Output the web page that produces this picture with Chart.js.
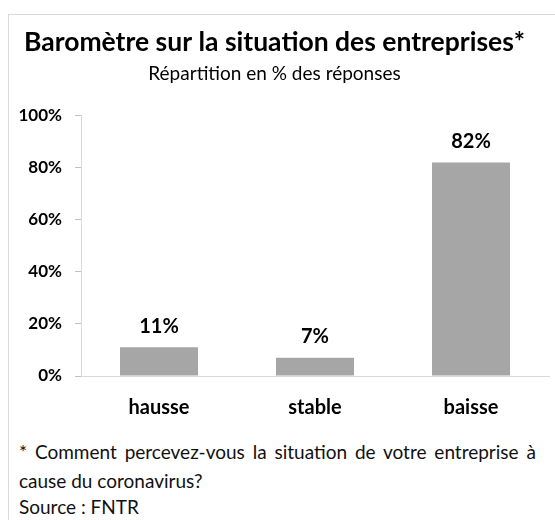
<!DOCTYPE html>
<html lang="fr">
<head>
  <meta charset="UTF-8">
  <title>Baromètre sur la situation des entreprises</title>
  <script src="https://cdn.jsdelivr.net/npm/chart.js"></script>
  <style>
    html, body { margin: 0; padding: 0; background: #fff; overflow: hidden; }
    body { width: 555px; height: 520px; position: relative; }
    .frame {
      position: absolute; left: 8px; top: 14px; width: 600px; height: 600px;
      border: 1px solid #d9d9d9; box-sizing: border-box;
    }
    #wrap { position: absolute; left: 0; top: 0; width: 555px; height: 420px; }
    .note {
      position: absolute; left: 19px; width: 524px; line-height: 23px;
      font-family: Lato, "Open Sans", sans-serif; font-size: 19px; color: #111;
      white-space: nowrap;
    }
  </style>
</head>
<body>
  <div class="frame"></div>
  <div id="wrap"><canvas id="chart" width="555" height="420"></canvas></div>
  <div class="note" style="top:440px; word-spacing: 3px;">* Comment percevez-vous la situation de votre entreprise à</div>
  <div class="note" style="top:469px;">cause du coronavirus?</div>
  <div class="note" style="top:495px;">Source : FNTR</div>

  <script>
    const categories = ["hausse", "stable", "baisse"];
    const shares = [11, 7, 82];
    const yTicks = [0, 20, 40, 60, 80, 100];

    // draw the "xx%" labels over each bar
    const barLabels = {
      id: 'barLabels',
      afterDatasetsDraw(chart) {
        const ctx = chart.ctx;
        const meta = chart.getDatasetMeta(0);
        ctx.save();
        ctx.font = 'bold 20px Lato, sans-serif';
        ctx.fillStyle = '#000';
        ctx.textAlign = 'center';
        ctx.textBaseline = 'middle';
        meta.data.forEach((bar, i) => {
          ctx.fillText(shares[i] + '%', bar.x, bar.y - 21);
        });
        ctx.restore();
      }
    };

    new Chart(document.getElementById('chart'), {
      type: 'bar',
      data: {
        labels: categories,
        datasets: [{
          data: shares,
          backgroundColor: '#a6a6a6',
          borderWidth: 0,
          categoryPercentage: 1,
          barPercentage: 0.5
        }]
      },
      options: {
        responsive: false,
        animation: false,
        layout: { padding: { left: 0, right: 6, top: 0, bottom: 0 } },
        plugins: {
          legend: { display: false },
          tooltip: { enabled: false },
          title: {
            display: true,
            text: 'Baromètre sur la situation des entreprises*',
            color: '#000',
            font: { family: 'Lato, sans-serif', size: 26.5, weight: 'bold' },
            padding: { top: 27, bottom: 4 }
          },
          subtitle: {
            display: true,
            text: 'Répartition en % des réponses',
            color: '#000',
            font: { family: 'Lato, sans-serif', size: 19 },
            padding: { top: 0, bottom: 30 }
          }
        },
        scales: {
          x: {
            grid: { display: true, drawOnChartArea: false, drawTicks: false },
            border: { display: true, color: '#d9d9d9' },
            ticks: {
              color: '#000',
              padding: 20,
              font: { family: 'Lato, sans-serif', size: 20, weight: 'bold' }
            },
            afterFit: (s) => { s.height = 44; }
          },
          y: {
            min: 0,
            max: 100,
            afterBuildTicks: (s) => { s.ticks = yTicks.map(v => ({ value: v })); },
            grid: { drawOnChartArea: false, drawTicks: true, tickLength: 6, color: '#bfbfbf' },
            border: { display: true, color: '#d9d9d9' },
            ticks: {
              color: '#000',
              padding: 13,
              font: { family: 'Lato, sans-serif', size: 17, weight: 'bold' },
              callback: (v) => v + '%'
            },
            afterFit: (s) => { s.width = 81; }
          }
        }
      },
      plugins: [barLabels]
    });
  </script>
</body>
</html>
